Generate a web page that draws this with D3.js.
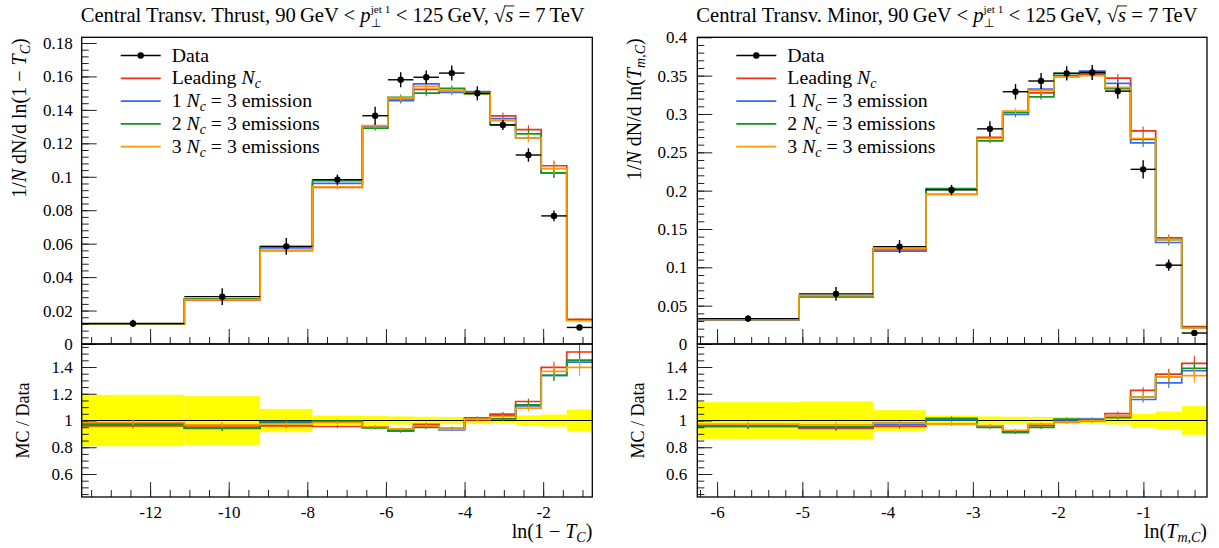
<!DOCTYPE html>
<html>
<head>
<meta charset="utf-8">
<script src="https://cdn.jsdelivr.net/npm/d3@7"></script>
<style>
  body { margin: 0; background: #fff; }
  svg { display: block; font-family: "Liberation Serif", serif; }
</style>
</head>
<body>
<div id="chart"></div>
<script>
// ---- left panel: central transverse thrust ----
const thrustEdges = [-13.74, -11.13, -9.2, -7.87, -6.6, -5.95, -5.3, -4.65, -4.0, -3.35, -2.7, -2.05, -1.4, -0.75];
const thrustData = [0.0123, 0.0283, 0.0584, 0.0983, 0.1365, 0.158, 0.1595, 0.162, 0.1499, 0.131, 0.113, 0.0766, 0.0099];
const thrustErr = [0.0022, 0.005, 0.005, 0.003, 0.0054, 0.0045, 0.004, 0.0045, 0.0042, 0.003, 0.004, 0.0032, 0.001];
const thrustLead = [0.0118, 0.0264, 0.0558, 0.0937, 0.1302, 0.1465, 0.1523, 0.1515, 0.150, 0.1364, 0.1282, 0.1066, 0.0147];
const thrustOne = [0.012, 0.0268, 0.0575, 0.096, 0.130, 0.1455, 0.1555, 0.1505, 0.151, 0.1348, 0.1232, 0.1023, 0.0142];
const thrustTwo = [0.012, 0.027, 0.0582, 0.0977, 0.129, 0.1475, 0.150, 0.1529, 0.1495, 0.131, 0.1256, 0.1023, 0.0143];
const thrustThree = [0.0121, 0.0266, 0.056, 0.094, 0.1306, 0.147, 0.154, 0.1515, 0.150, 0.1336, 0.1232, 0.1049, 0.0139];
const thrustRatioLead = [0.96, 0.96, 0.96, 0.955, 0.952, 0.93, 0.972, 0.935, 1.005, 1.047, 1.142, 1.397, 1.512];
const thrustRatioOne = [0.975, 0.945, 0.985, 0.99, 0.95, 0.92, 0.955, 0.93, 1.02, 1.035, 1.11, 1.337, 1.437];
const thrustRatioTwo = [0.972, 0.94, 0.992, 0.995, 0.945, 0.925, 0.948, 0.942, 1.01, 1.012, 1.117, 1.337, 1.452];
const thrustRatioThree = [0.985, 0.967, 0.975, 0.985, 0.955, 0.937, 0.96, 0.935, 1.01, 1.03, 1.092, 1.367, 1.397];
const thrustBand = [0.192, 0.182, 0.087, 0.037, 0.033, 0.03, 0.028, 0.027, 0.027, 0.022, 0.038, 0.045, 0.082];
const thrustMcErr = [0.02, 0.02, 0.015, 0.012, 0.012, 0.012, 0.012, 0.012, 0.012, 0.015, 0.02, 0.03, 0.045];
const thrustYTicks = [0, 0.02, 0.04, 0.06, 0.08, 0.1, 0.12, 0.14, 0.16, 0.18];
const thrustXTicks = [-12, -10, -8, -6, -4, -2];

// ---- right panel: central transverse minor ----
const minorEdges = [-6.232, -5.04, -4.17, -3.55, -2.95, -2.65, -2.35, -2.05, -1.75, -1.45, -1.15, -0.856, -0.55, -0.254];
const minorData = [0.0331, 0.0654, 0.127, 0.201, 0.2806, 0.329, 0.343, 0.353, 0.3542, 0.3298, 0.2278, 0.1028, 0.0143];
const minorErr = [0.0045, 0.009, 0.0085, 0.0065, 0.01, 0.01, 0.0105, 0.0093, 0.0098, 0.0098, 0.012, 0.0074, 0.0025];
const minorLead = [0.0316, 0.0615, 0.121, 0.195, 0.2695, 0.302, 0.3276, 0.349, 0.352, 0.3468, 0.278, 0.1385, 0.0226];
const minorOne = [0.0318, 0.0618, 0.123, 0.2015, 0.2685, 0.2993, 0.3324, 0.35, 0.356, 0.340, 0.2622, 0.1324, 0.0212];
const minorTwo = [0.032, 0.0623, 0.1245, 0.2026, 0.265, 0.302, 0.3224, 0.353, 0.353, 0.333, 0.267, 0.136, 0.0215];
const minorThree = [0.0322, 0.0632, 0.1245, 0.1955, 0.268, 0.3037, 0.3307, 0.3485, 0.350, 0.3346, 0.268, 0.136, 0.0209];
const minorRatioLead = [0.955, 0.94, 0.955, 0.973, 0.958, 0.918, 0.962, 0.99, 0.995, 1.052, 1.225, 1.347, 1.427];
const minorRatioOne = [0.955, 0.948, 0.967, 1.005, 0.955, 0.91, 0.97, 0.995, 1.01, 1.035, 1.157, 1.282, 1.372];
const minorRatioTwo = [0.96, 0.952, 0.98, 1.017, 0.948, 0.915, 0.948, 1.01, 1.003, 1.022, 1.175, 1.325, 1.39];
const minorRatioThree = [0.973, 0.967, 0.98, 0.973, 0.962, 0.927, 0.972, 0.99, 0.997, 1.035, 1.175, 1.325, 1.335];
const minorBand = [0.137, 0.143, 0.077, 0.037, 0.03, 0.028, 0.026, 0.027, 0.024, 0.03, 0.05, 0.067, 0.107];
const minorMcErr = [0.02, 0.02, 0.015, 0.012, 0.012, 0.012, 0.012, 0.012, 0.012, 0.015, 0.02, 0.03, 0.04];
const minorYTicks = [0, 0.05, 0.1, 0.15, 0.2, 0.25, 0.3, 0.35, 0.4];
const minorXTicks = [-6, -5, -4, -3, -2, -1];

const ratioTicks = [0.6, 0.8, 1, 1.2, 1.4];
const seriesColors = ["#ee3311", "#3366ff", "#109618", "#ff9900"];

const width = 1219;
const height = 548;
const mainTop = 37.3;
const mainBottom = 344;
const ratioBottom = 497;

const svg = d3.select("#chart").append("svg")
  .attr("width", width)
  .attr("height", height);

// lay out a row of text pieces (italic, sub/superscripts) and return its width
function rich(parent, parts, fs) {
  const g = parent.append("g");
  let x = 0, held = 0;
  parts.forEach((p) => {
    const size = p.s ? fs * p.s : fs;
    const t = g.append("text")
      .attr("x", x)
      .attr("y", p.dy || 0)
      .attr("font-size", size)
      .attr("font-style", p.i ? "italic" : null)
      .style("white-space", "pre")
      .text(p.t);
    const w = t.node().getComputedTextLength();
    if (p.o) {
      g.append("line")
        .attr("x1", x - 1).attr("x2", x + w + 1)
        .attr("y1", -fs * 0.78).attr("y2", -fs * 0.78)
        .attr("stroke", "#000").attr("stroke-width", 0.9);
    }
    if (p.h) {
      held = w;
    } else {
      x += Math.max(w, held);
      held = 0;
    }
  });
  return [g, x];
}

const sub = (t) => ({ t, i: 1, s: 0.7, dy: 4 });

function drawPanel(p) {
  const x = d3.scaleLinear().domain(p.xDomain).range([p.x0, p.x1]);
  const y = d3.scaleLinear().domain([0, p.yMax]).range([mainBottom, mainTop]);
  const yr = d3.scaleLinear().domain([0.428, 1.572]).range([ratioBottom, mainBottom]);
  const mid = (i) => (p.edges[i] + p.edges[i + 1]) / 2;
  const stepPath = (vals, ys) =>
    d3.line().curve(d3.curveStepAfter).x((d) => x(d[0])).y((d) => ys(d[1]))(
      p.edges.map((e, i) => [e, vals[Math.min(i, vals.length - 1)]])
    );

  // ratio: data uncertainty band
  svg.append("g")
    .attr("fill", "#ffff00")
    .selectAll("rect")
    .data(p.band)
    .join("rect")
    .attr("x", (d, i) => x(p.edges[i]))
    .attr("width", (d, i) => x(p.edges[i + 1]) - x(p.edges[i]))
    .attr("y", (d) => yr(1 + d))
    .attr("height", (d) => yr(1 - d) - yr(1 + d));

  svg.append("line")
    .attr("x1", p.x0).attr("x2", p.x1)
    .attr("y1", yr(1)).attr("y2", yr(1))
    .attr("stroke", "#000").attr("stroke-width", 1.1);

  // MC ratio lines and MC main lines
  [[p.ratio, yr], [p.mc, y]].forEach(([sets, ys]) => {
    sets.forEach((vals, k) => {
      const g = svg.append("g").attr("stroke", seriesColors[k]).attr("fill", "none");
      g.append("path").attr("d", stepPath(vals, ys)).attr("stroke-width", 1.7);
      g.selectAll("line")
        .data(vals)
        .join("line")
        .attr("x1", (d, i) => x(mid(i))).attr("x2", (d, i) => x(mid(i)))
        .attr("y1", (d, i) => ys(d * (1 + p.mcErr[i])))
        .attr("y2", (d, i) => ys(d * (1 - p.mcErr[i])))
        .attr("stroke-width", 1.1);
    });
  });

  // data points
  const dg = svg.append("g").attr("stroke", "#000").attr("stroke-width", 1.4);
  dg.selectAll("line.h")
    .data(p.data)
    .join("line")
    .attr("class", "h")
    .attr("x1", (d, i) => x(p.edges[i])).attr("x2", (d, i) => x(p.edges[i + 1]))
    .attr("y1", (d) => y(d)).attr("y2", (d) => y(d));
  dg.selectAll("line.v")
    .data(p.data)
    .join("line")
    .attr("class", "v")
    .attr("x1", (d, i) => x(mid(i))).attr("x2", (d, i) => x(mid(i)))
    .attr("y1", (d, i) => y(d + p.err[i])).attr("y2", (d, i) => y(d - p.err[i]));
  dg.selectAll("circle")
    .data(p.data)
    .join("circle")
    .attr("cx", (d, i) => x(mid(i)))
    .attr("cy", (d) => y(d))
    .attr("r", 3.2)
    .attr("fill", "#000")
    .attr("stroke", "none");

  // axes, ticks pointing inward
  const styleAxis = (g) => {
    g.select(".domain").remove();
    g.attr("font-family", "Liberation Serif").attr("font-size", 17);
    g.selectAll(".tick line").attr("stroke", "#222").attr("stroke-width", 1);
  };
  const xMinor = d3.range(p.xMinorStart, p.xDomain[1], p.xMinorStep);
  [mainBottom, ratioBottom].forEach((yy) => {
    svg.append("g").attr("transform", `translate(0,${yy})`)
      .call(d3.axisBottom(x).tickValues(xMinor).tickSize(-7).tickFormat(""))
      .call(styleAxis);
    svg.append("g").attr("transform", `translate(0,${yy})`)
      .call(d3.axisBottom(x).tickValues(p.xTicks).tickSize(-15).tickPadding(9)
        .tickFormat(yy === ratioBottom ? (d) => String(d) : ""))
      .call(styleAxis);
  });

  const yMinor = d3.range(0, p.yMax, p.yMinorStep);
  svg.append("g").attr("transform", `translate(${p.x0},0)`)
    .call(d3.axisLeft(y).tickValues(yMinor).tickSize(-7).tickFormat(""))
    .call(styleAxis);
  svg.append("g").attr("transform", `translate(${p.x0},0)`)
    .call(d3.axisLeft(y).tickValues(p.yTicks).tickSize(-15).tickPadding(p.yPad)
      .tickFormat((d) => String(+d.toFixed(3))))
    .call(styleAxis);

  const rMinor = d3.range(0.45, 1.56, 0.05);
  svg.append("g").attr("transform", `translate(${p.x0},0)`)
    .call(d3.axisLeft(yr).tickValues(rMinor).tickSize(-7).tickFormat(""))
    .call(styleAxis);
  svg.append("g").attr("transform", `translate(${p.x0},0)`)
    .call(d3.axisLeft(yr).tickValues(ratioTicks).tickSize(-15).tickPadding(p.yPad)
      .tickFormat((d) => String(d)))
    .call(styleAxis);

  // frames
  [[mainTop, mainBottom], [mainBottom, ratioBottom]].forEach(([a, b]) => {
    svg.append("rect")
      .attr("x", p.x0).attr("y", a)
      .attr("width", p.x1 - p.x0).attr("height", b - a)
      .attr("fill", "none").attr("stroke", "#000").attr("stroke-width", 1.3);
  });

  // title
  const [tg] = rich(svg, p.title, 20.6);
  tg.attr("transform", `translate(${p.x0 - 1},22)`);

  // y labels
  const [yg, yw] = rich(svg, p.ylabel, 20);
  yg.attr("transform", `translate(${p.yLabelX},${mainTop + 1 + yw}) rotate(-90)`);
  const [rg, rw] = rich(svg, [{ t: "MC / Data" }], 18);
  rg.attr("transform", `translate(${p.yLabelX + 3},${yr(1) + rw / 2}) rotate(-90)`);

  // x label
  const [xg, xw] = rich(svg, p.xlabel, 20);
  xg.attr("transform", `translate(${p.x1 - xw},538)`);

  // legend
  const lx = p.x0 + 39;
  const rows = [
    [{ t: "Data" }],
    [{ t: "Leading " }, { t: "N", i: 1 }, sub("c")],
    [{ t: "1 " }, { t: "N", i: 1 }, sub("c"), { t: " = 3 emission" }],
    [{ t: "2 " }, { t: "N", i: 1 }, sub("c"), { t: " = 3 emissions" }],
    [{ t: "3 " }, { t: "N", i: 1 }, sub("c"), { t: " = 3 emissions" }],
  ];
  rows.forEach((parts, r) => {
    const ry = 55.5 + r * 22.8;
    const col = r === 0 ? "#000" : seriesColors[r - 1];
    svg.append("line")
      .attr("x1", lx).attr("x2", lx + 40)
      .attr("y1", ry).attr("y2", ry)
      .attr("stroke", col).attr("stroke-width", r === 0 ? 1.4 : 1.7);
    if (r === 0) {
      svg.append("circle").attr("cx", lx + 20).attr("cy", ry).attr("r", 3.2).attr("fill", "#000");
    }
    const [lg] = rich(svg, parts, 19.8);
    lg.attr("transform", `translate(${lx + 51},${ry + 6})`);
  });
}

const titleTail = [
  { t: "p", i: 1 },
  { t: "jet 1", s: 0.55, dy: -9, h: 1 }, { t: "\u22a5", s: 0.6, dy: 5 },
  { t: " < 125\u2009GeV, " }, { t: "\u221a" }, { t: "s", i: 1, o: 1 },
  { t: " = 7\u2009TeV" },
];

drawPanel({
  x0: 81.7, x1: 592.3,
  xDomain: [-13.74, -0.75],
  xTicks: thrustXTicks, xMinorStart: -13.5, xMinorStep: 0.5,
  yMax: 0.1834, yTicks: thrustYTicks, yMinorStep: 0.004, yPad: 9,
  edges: thrustEdges, data: thrustData, err: thrustErr,
  mc: [thrustLead, thrustOne, thrustTwo, thrustThree],
  ratio: [thrustRatioLead, thrustRatioOne, thrustRatioTwo, thrustRatioThree],
  band: thrustBand, mcErr: thrustMcErr,
  yLabelX: 26,
  title: [{ t: "Central Transv. Thrust, 90\u2009GeV < " }, ...titleTail],
  ylabel: [{ t: "1/" }, { t: "N", i: 1 }, { t: " dN/d ln(1 \u2212 " }, { t: "T", i: 1 }, sub("C"), { t: ")" }],
  xlabel: [{ t: "ln(1 \u2212 " }, { t: "T", i: 1 }, sub("C"), { t: ")" }],
});

drawPanel({
  x0: 697.3, x1: 1207,
  xDomain: [-6.232, -0.254],
  xTicks: minorXTicks, xMinorStart: -6.2, xMinorStep: 0.2,
  yMax: 0.4, yTicks: minorYTicks, yMinorStep: 0.01, yPad: 10,
  edges: minorEdges, data: minorData, err: minorErr,
  mc: [minorLead, minorOne, minorTwo, minorThree],
  ratio: [minorRatioLead, minorRatioOne, minorRatioTwo, minorRatioThree],
  band: minorBand, mcErr: minorMcErr,
  yLabelX: 641,
  title: [{ t: "Central Transv. Minor, 90\u2009GeV < " }, ...titleTail],
  ylabel: [{ t: "1/" }, { t: "N", i: 1 }, { t: " dN/d ln(" }, { t: "T", i: 1 }, sub("m,C"), { t: ")" }],
  xlabel: [{ t: "ln(" }, { t: "T", i: 1 }, sub("m,C"), { t: ")" }],
});
</script>
</body>
</html>
